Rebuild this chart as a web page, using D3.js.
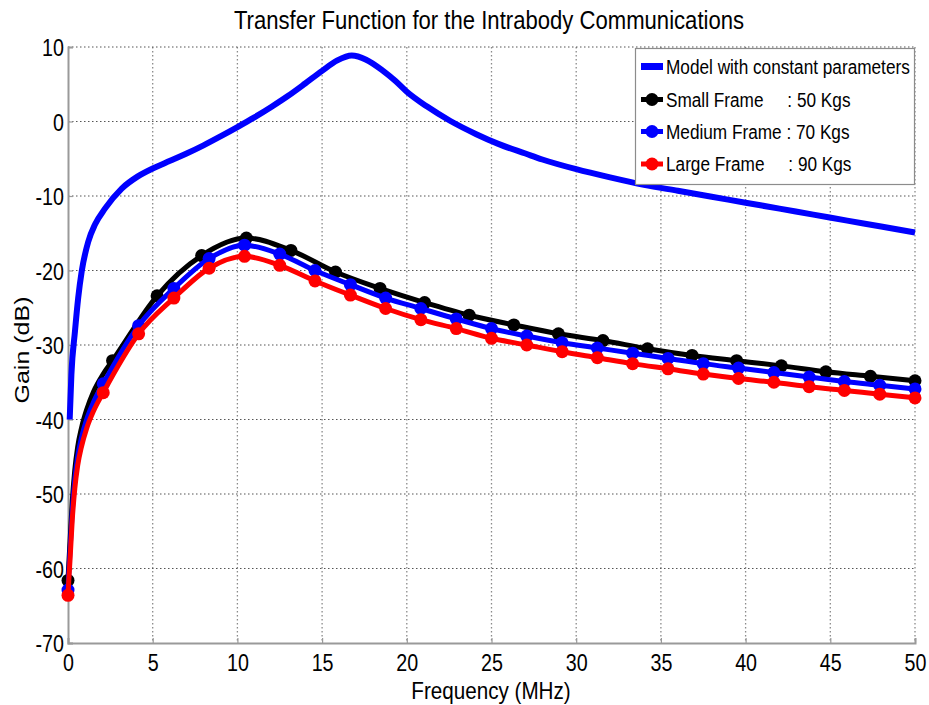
<!DOCTYPE html>
<html>
<head>
<meta charset="utf-8">
<script src="https://cdn.jsdelivr.net/npm/d3@7/dist/d3.min.js"></script>
<style>
  html, body { margin: 0; padding: 0; background: #fff; }
  svg { display: block; }
  text { font-family: "Liberation Sans", Arial, sans-serif; fill: #000; }
</style>
</head>
<body>
<svg id="chart" width="929" height="705"></svg>
<script>
// ---------------- DATA ----------------
const chartTitle = "Transfer Function for the Intrabody Communications";
const xLabel = "Frequency (MHz)";
const yLabel = "Gain (dB)";
const xTicks = [0, 5, 10, 15, 20, 25, 30, 35, 40, 45, 50];
const yTicks = [10, 0, -10, -20, -30, -40, -50, -60, -70];

// Model with constant parameters (dense line, no markers)
const modelFreq = [0.1, 0.2, 0.41, 0.6, 0.81, 1.2, 1.6, 2.18, 3.17, 4.1, 5, 5.7, 7, 8, 9, 10, 11, 12, 13, 14, 15, 15.9, 16.75, 17.6, 18.6, 19.3, 20, 21.2, 22.55, 24.1, 25.4, 27, 28, 30, 32, 34, 36, 38, 40, 42, 44, 46, 48, 50];
const modelGain = [-40, -34, -28.2, -23.7, -20.1, -16.1, -13.8, -11.7, -9.0, -7.4, -6.3, -5.6, -4.3, -3.2, -2.0, -0.75, 0.55, 1.95, 3.45, 5.1, 6.8, 8.2, 8.85, 8.3, 6.8, 5.5, 4.0, 2.0, 0.1, -1.7, -3.0, -4.3, -5.1, -6.4, -7.5, -8.5, -9.3, -10.1, -10.9, -11.7, -12.5, -13.3, -14.1, -14.9];

// Small frame : 50 Kgs (marker points)
const smallFreq = [0, 2.63, 5.26, 7.89, 10.53, 13.16, 15.79, 18.42, 21.05, 23.68, 26.32, 28.95, 31.58, 34.21, 36.84, 39.47, 42.11, 44.74, 47.37, 50];
const smallGain = [-61.6, -32.1, -23.4, -18.0, -15.65, -17.3, -20.2, -22.4, -24.3, -26.0, -27.3, -28.5, -29.4, -30.5, -31.4, -32.1, -32.8, -33.6, -34.2, -34.8];
const smallLeadFreq = [0.05, 0.12, 0.25, 0.4, 0.57, 0.8, 1.1, 1.5, 2.08];
const smallLeadGain = [-59.3, -56.4, -51.0, -46.8, -43.7, -41.1, -38.7, -36.3, -33.9];

// Medium frame : 70 Kgs
const mediumFreq = [0, 2.08, 4.17, 6.25, 8.33, 10.42, 12.5, 14.58, 16.67, 18.75, 20.83, 22.92, 25, 27.08, 29.17, 31.25, 33.33, 35.42, 37.5, 39.58, 41.67, 43.75, 45.83, 47.92, 50];
const mediumGain = [-62.9, -35.2, -27.4, -22.4, -18.4, -16.6, -17.8, -20.0, -21.9, -23.7, -25.1, -26.5, -27.8, -28.8, -29.7, -30.4, -31.1, -31.8, -32.5, -33.1, -33.7, -34.3, -34.9, -35.4, -35.9];
const mediumLeadFreq = [0.05, 0.12, 0.25, 0.4, 0.57, 0.8, 1.1, 1.5];
const mediumLeadGain = [-60.5, -57.6, -52.3, -48.1, -45.0, -42.4, -40.0, -37.7];

// Large frame : 90 Kgs
const largeFreq = [0, 2.08, 4.17, 6.25, 8.33, 10.42, 12.5, 14.58, 16.67, 18.75, 20.83, 22.92, 25, 27.08, 29.17, 31.25, 33.33, 35.42, 37.5, 39.58, 41.67, 43.75, 45.83, 47.92, 50];
const largeGain = [-63.6, -36.4, -28.5, -23.7, -19.7, -18.1, -19.3, -21.4, -23.3, -25.1, -26.6, -27.8, -29.1, -30.0, -30.9, -31.7, -32.5, -33.2, -33.9, -34.5, -35.0, -35.6, -36.1, -36.6, -37.1];
const largeLeadFreq = [0.05, 0.12, 0.25, 0.4, 0.57, 0.8, 1.1, 1.5];
const largeLeadGain = [-61.5, -58.8, -53.5, -49.3, -46.2, -43.6, -41.2, -38.9];

const legendLabels = [
  "Model with constant parameters",
  "Small Frame     : 50 Kgs",
  "Medium Frame : 70 Kgs",
  "Large Frame     : 90 Kgs"
];

// ---------------- LAYOUT ----------------
const svg = d3.select("#chart");
const M = { left: 68, right: 915, top: 47, bottom: 643 };

const x = d3.scaleLinear().domain([0, 50]).range([M.left, M.right]);
const y = d3.scaleLinear().domain([-70, 10]).range([M.bottom, M.top]);

function squeeze(sel, k) {
  sel.each(function () {
    const n = this.getComputedTextLength();
    this.setAttribute("textLength", n * k);
    this.setAttribute("lengthAdjust", "spacingAndGlyphs");
  });
}

// grid
const grid = svg.append("g");
grid.selectAll(".vg").data(xTicks.filter(d => d !== 0)).join("line")
  .attr("x1", d => x(d)).attr("x2", d => x(d))
  .attr("y1", M.top).attr("y2", M.bottom)
  .attr("stroke", "#8a8a8a").attr("stroke-width", 1.3).attr("stroke-dasharray", "1.5,2.5");
grid.selectAll(".hg").data(yTicks.filter(d => d !== -70)).join("line")
  .attr("x1", M.left).attr("x2", M.right)
  .attr("y1", d => y(d)).attr("y2", d => y(d))
  .attr("stroke", "#555").attr("stroke-width", 1.1).attr("stroke-dasharray", "1.5,2.5");

// axes
const fmt = d => String(d);
const xAxis = d3.axisBottom(x).tickValues(xTicks).tickSize(-5).tickPadding(11).tickFormat(fmt);
const yAxis = d3.axisLeft(y).tickValues(yTicks).tickSize(-5).tickPadding(4).tickFormat(fmt);

const gx = svg.append("g").attr("transform", `translate(0,${M.bottom})`).call(xAxis);
const gy = svg.append("g").attr("transform", `translate(${M.left},0)`).call(yAxis);
[gx, gy].forEach(g => {
  g.attr("font-family", null);
  g.select(".domain").attr("stroke", "#9a9a9a").attr("stroke-width", 2);
  g.selectAll(".tick line").attr("stroke", "#9a9a9a").attr("stroke-width", 1.2);
  g.selectAll(".tick text").attr("font-size", 24).attr("fill", "#000")
    .style("font-family", '"Liberation Sans", Arial, sans-serif');
});
gx.selectAll(".tick text").attr("dy", "0.71em");
gy.selectAll(".tick text").attr("dy", "0.36em");
squeeze(gx.selectAll(".tick text"), 0.82);
squeeze(gy.selectAll(".tick text"), 0.82);

// lines
const line = d3.line().x(d => x(d[0])).y(d => y(d[1])).curve(d3.curveMonotoneX);

const modelPts = d3.zip(modelFreq, modelGain);
svg.append("path").datum(modelPts).attr("d", line)
  .attr("fill", "none").attr("stroke", "#0000ff").attr("stroke-width", 6)
  .attr("stroke-linejoin", "round").attr("stroke-linecap", "butt");

const series = [
  { f: smallFreq, g: smallGain, lf: smallLeadFreq, lg: smallLeadGain, color: "#000000" },
  { f: mediumFreq, g: mediumGain, lf: mediumLeadFreq, lg: mediumLeadGain, color: "#0000ff" },
  { f: largeFreq, g: largeGain, lf: largeLeadFreq, lg: largeLeadGain, color: "#ff0000" }
];

series.forEach(s => {
  const pts = d3.zip(s.f, s.g).concat(d3.zip(s.lf, s.lg)).sort((a, b) => a[0] - b[0]);
  svg.append("path").datum(pts).attr("d", line)
    .attr("fill", "none").attr("stroke", s.color).attr("stroke-width", 5)
    .attr("stroke-linejoin", "round");
  svg.append("g").selectAll("circle").data(d3.zip(s.f, s.g)).join("circle")
    .attr("cx", d => x(d[0])).attr("cy", d => y(d[1])).attr("r", 6.5)
    .attr("fill", s.color);
});

// title & labels
const title = svg.append("text").attr("x", 489).attr("y", 29)
  .attr("text-anchor", "middle").attr("font-size", 26).text(chartTitle);
squeeze(title, 0.85);

const xl = svg.append("text").attr("x", 491).attr("y", 699)
  .attr("text-anchor", "middle").attr("font-size", 24).text(xLabel);
squeeze(xl, 0.86);

svg.append("text").attr("transform", "translate(29,350) scale(0.82,1) rotate(-90)")
  .attr("text-anchor", "middle").attr("font-size", 25).text(yLabel);

// legend
const lg = svg.append("g");
lg.append("rect").attr("x", 635.5).attr("y", 48.5).attr("width", 279).attr("height", 136)
  .attr("fill", "#fff").attr("stroke", "#8c8c8c").attr("stroke-width", 1.2);
const legendColors = ["#0000ff", "#000000", "#0000ff", "#ff0000"];
const rowY = [66.5, 99.5, 131.5, 164];
legendLabels.forEach((lab, i) => {
  lg.append("line").attr("x1", 641).attr("x2", 663).attr("y1", rowY[i]).attr("y2", rowY[i])
    .attr("stroke", legendColors[i]).attr("stroke-width", i === 0 ? 7 : 5);
  if (i > 0) {
    lg.append("circle").attr("cx", 652).attr("cy", rowY[i]).attr("r", 6.5).attr("fill", legendColors[i]);
  }
  const t = lg.append("text").attr("x", 666).attr("y", rowY[i]).attr("dy", "0.36em")
    .attr("font-size", 20).attr("xml:space", "preserve").style("white-space", "pre").text(lab);
  squeeze(t, 0.86);
});
</script>
</body>
</html>
